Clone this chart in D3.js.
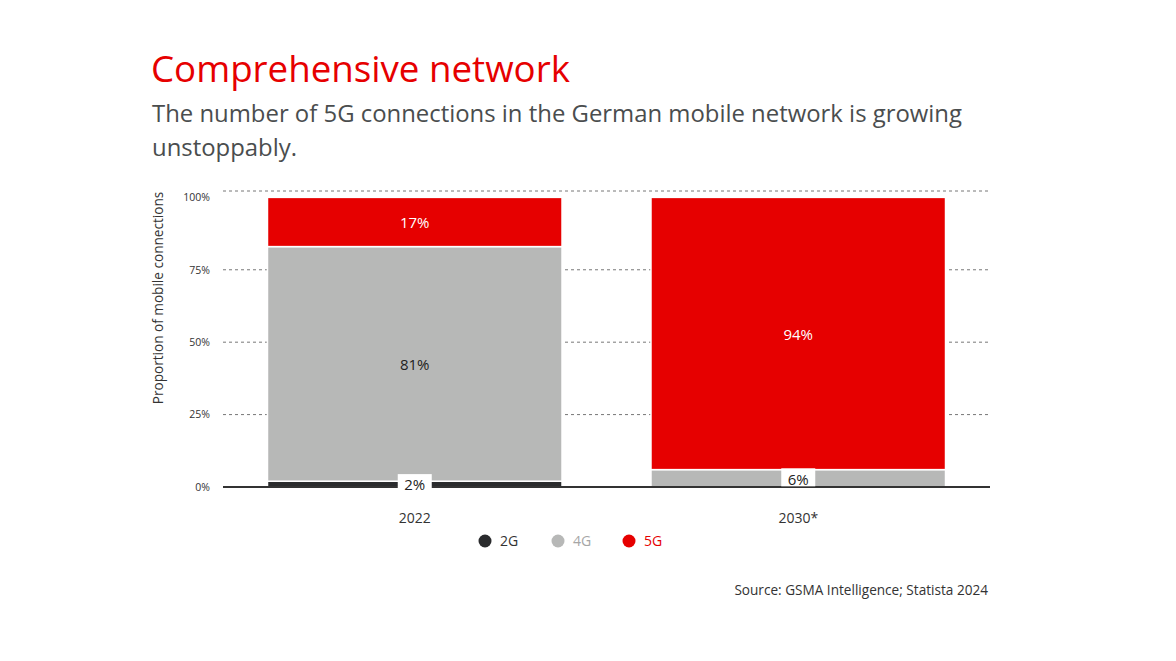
<!DOCTYPE html>
<html>
<head>
<meta charset="utf-8">
<script src="https://cdn.jsdelivr.net/npm/d3@7"></script>
<style>
  body { margin: 0; background: #fff; }
  svg { display: block; font-family: "Open Sans", sans-serif; }
</style>
</head>
<body>
<div id="container"></div>
<script>
(function() {

// Data
let years = ["2022", "2030*"];
let technologies = ["2G", "4G", "5G"];
let share2G = [2, 0];
let share4G = [81, 6];
let share5G = [17, 94];
let yTicks = [0, 25, 50, 75, 100];

let colors = { "2G": "#2a2b2d", "4G": "#b7b8b7", "5G": "#e60000" };
let legendText = { "2G": "#333333", "4G": "#a6a6a6", "5G": "#e60000" };

let width = 1176;
let height = 661;
let margin = { left: 223, right: 186, top: 191, bottom: 174 };
let innerW = width - margin.left - margin.right;
let innerH = height - margin.top - margin.bottom;

let svg = d3.select("#container")
  .append("svg")
    .attr("width", width)
    .attr("height", height);

// Titles
svg.append("text")
  .attr("x", 151)
  .attr("y", 82)
  .attr("fill", "#e60000")
  .style("font-size", "36.7px")
  .text("Comprehensive network");

svg.append("text")
  .attr("x", 152)
  .attr("y", 122)
  .attr("fill", "#4a4d4e")
  .style("font-size", "23.9px")
  .text("The number of 5G connections in the German mobile network is growing");
svg.append("text")
  .attr("x", 152)
  .attr("y", 156)
  .attr("fill", "#4a4d4e")
  .style("font-size", "23.9px")
  .text("unstoppably.");

let g = svg.append("g")
  .attr("transform", "translate(" + margin.left + "," + margin.top + ")");

// Scales
let x = d3.scaleBand()
  .domain(years)
  .range([0, innerW])
  .paddingInner(0.232)
  .paddingOuter(0.116);
let y = d3.scaleLinear()
  .domain([0, 102.2])
  .range([innerH, 0]);

// Gridlines
let gridVals = [25, 50, 75, 102.2];
g.append("g")
  .selectAll("line")
  .data(gridVals)
  .enter()
  .append("line")
    .attr("x1", 0)
    .attr("x2", innerW)
    .attr("y1", (d) => y(d))
    .attr("y2", (d) => y(d))
    .attr("stroke", "#777")
    .attr("stroke-width", 1)
    .attr("stroke-dasharray", "3,3");

// Y axis labels
let yAxis = d3.axisLeft(y)
  .tickValues(yTicks)
  .tickFormat((d) => d + "%")
  .tickSize(0)
  .tickPadding(13);
let yg = g.append("g").call(yAxis);
yg.select(".domain").remove();
yg.selectAll("text")
  .attr("fill", "#333")
  .style("font-size", "10.5px")
  .style("font-family", "Open Sans, sans-serif");

svg.append("text")
  .attr("transform", "translate(163,298) rotate(-90)")
  .attr("text-anchor", "middle")
  .attr("fill", "#333")
  .style("font-size", "13.6px")
  .text("Proportion of mobile connections");

// Stack
let rows = years.map((yr, i) => ({ year: yr, "2G": share2G[i], "4G": share4G[i], "5G": share5G[i] }));
let series = d3.stack().keys(technologies)(rows);

g.append("g")
  .selectAll("g")
  .data(series)
  .enter()
  .append("g")
    .attr("fill", (d) => colors[d.key])
  .selectAll("rect")
  .data((d) => d.filter((p) => p[1] - p[0] > 0))
  .enter()
  .append("rect")
    .attr("x", (d) => x(d.data.year))
    .attr("width", x.bandwidth())
    .attr("y", (d) => y(d[1]))
    .attr("height", (d) => y(d[0]) - y(d[1]))
    .attr("stroke", "#fff")
    .attr("stroke-width", 1.5);

// Baseline
g.append("line")
  .attr("x1", 0)
  .attr("x2", innerW)
  .attr("y1", y(0))
  .attr("y2", y(0))
  .attr("stroke", "#333")
  .attr("stroke-width", 2);

// Value labels
let labels = [];
series.forEach((s) => {
  s.forEach((p) => {
    let v = p[1] - p[0];
    if (v <= 0) return;
    labels.push({ key: s.key, year: p.data.year, v: v, y0: p[0], y1: p[1] });
  });
});

labels.forEach((d) => {
  let cx = x(d.year) + x.bandwidth() / 2;
  let cy = y((d.y0 + d.y1) / 2);
  if (d.v < 10) {
    // small segment: label on a white box
    g.append("rect")
      .attr("x", cx - 17)
      .attr("y", cy - 10)
      .attr("width", 34)
      .attr("height", 18)
      .attr("fill", "#fff");
  }
  g.append("text")
    .attr("x", cx)
    .attr("y", cy)
    .attr("dy", "0.42em")
    .attr("text-anchor", "middle")
    .attr("fill", d.key == "5G" ? "#fff" : "#222")
    .style("font-size", "15px")
    .text(Math.round(d.v) + "%");
});

// X axis labels
g.append("g")
  .selectAll("text")
  .data(years)
  .enter()
  .append("text")
    .attr("x", (d) => x(d) + x.bandwidth() / 2)
    .attr("y", innerH + 36)
    .attr("text-anchor", "middle")
    .attr("fill", "#333")
    .style("font-size", "14px")
    .text((d) => d);

// Legend
let legendX = [485, 558, 629];
let legend = svg.append("g")
  .selectAll("g")
  .data(technologies)
  .enter()
  .append("g")
    .attr("transform", (d, i) => "translate(" + legendX[i] + ",541)");
legend.append("circle")
  .attr("r", 6.5)
  .attr("fill", (d) => colors[d]);
legend.append("text")
  .attr("x", 15)
  .attr("dy", "0.35em")
  .attr("fill", (d) => legendText[d])
  .style("font-size", "14px")
  .text((d) => d);

// Source
svg.append("text")
  .attr("x", 988)
  .attr("y", 595)
  .attr("text-anchor", "end")
  .attr("fill", "#333")
  .style("font-size", "13.6px")
  .text("Source: GSMA Intelligence; Statista 2024");

})();
</script>
</body>
</html>
